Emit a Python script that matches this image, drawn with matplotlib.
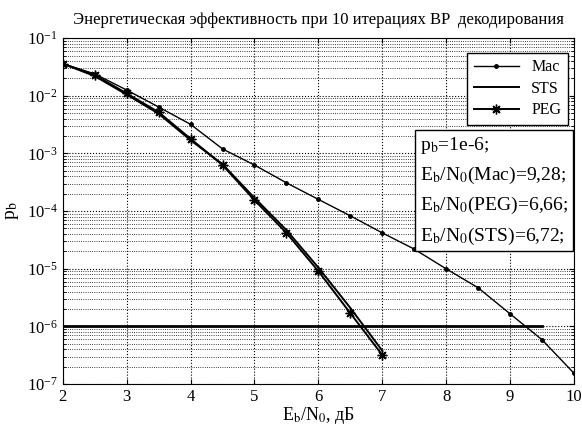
import numpy as np
import matplotlib
matplotlib.use("Agg")
import matplotlib.pyplot as plt
from matplotlib.ticker import LogLocator, NullFormatter

# Eb/N0, dB
snr = [2, 2.5, 3, 3.5, 4, 4.5, 5, 5.5, 6, 6.5, 7, 7.5, 8, 8.5, 9, 9.5, 10]
pb_mac = [3.6e-2, 2.4e-2, 1.26e-2, 6.4e-3, 3.2e-3, 1.2e-3, 6.3e-4, 3.1e-4,
          1.6e-4, 8.3e-5, 4.2e-5, 2.2e-5, 1.0e-5, 4.7e-6, 1.66e-6, 5.9e-7, 1.55e-7]

snr_ldpc = [2, 2.5, 3, 3.5, 4, 4.5, 5, 5.5, 6, 6.5, 7]
pb_sts = [3.6e-2, 2.2e-2, 1.05e-2, 4.9e-3, 1.7e-3, 6.5e-4, 1.7e-4, 4.7e-5,
          1.05e-5, 2.1e-6, 3.8e-7]
pb_peg = [3.6e-2, 2.3e-2, 1.1e-2, 5.2e-3, 1.8e-3, 6.3e-4, 1.55e-4, 4.2e-5,
          9.1e-6, 1.7e-6, 3.2e-7]

target_pb = 1e-6
target_span = [2, 9.5]

info_lines = [r"p$_\mathrm{b}$=1e-6;",
              r"E$_\mathrm{b}$/N$_\mathrm{0}$(Mac)=9,28;",
              r"E$_\mathrm{b}$/N$_\mathrm{0}$(PEG)=6,66;",
              r"E$_\mathrm{b}$/N$_\mathrm{0}$(STS)=6,72;"]

plt.rcParams['font.family'] = ['Liberation Serif', 'DejaVu Serif']
plt.rcParams['mathtext.fontset'] = 'stix'

fig = plt.figure(figsize=(5.82, 4.34), dpi=100)
ax = fig.add_axes([0.108, 0.115, 0.878, 0.797])

ax.semilogy(snr, pb_mac, color='k', lw=1.0, marker='.', markersize=5, label='Mac')
ax.semilogy(snr_ldpc, pb_sts, color='k', lw=1.4, label='STS')
ax.semilogy(snr_ldpc, pb_peg, color='k', lw=1.4, marker=(8, 2, 0), markersize=7,
            label='PEG')
ax.plot(target_span, [target_pb, target_pb], color='k', lw=2.0)

ax.set_xlim(2, 10)
ax.set_ylim(1e-7, 1e-1)
ax.set_xticks(range(2, 11))
ax.yaxis.set_major_locator(LogLocator(base=10, numticks=10))
ax.yaxis.set_minor_locator(LogLocator(base=10, subs=np.arange(2, 10), numticks=20))
ax.yaxis.set_minor_formatter(NullFormatter())

ax.grid(True, which='major', linestyle=':', color='k', lw=0.8)
ax.grid(True, which='minor', axis='y', linestyle=':', color='k', lw=0.6)
ax.tick_params(which='both', direction='in', top=True, right=True, labelsize=12)

ax.set_title("Энергетическая эффективность при 10 итерациях BP  декодирования",
             fontsize=12, pad=10)
ax.set_xlabel(r"E$_\mathrm{b}$/N$_\mathrm{0}$, дБ", fontsize=13, labelpad=0)
ax.set_ylabel(r"p$_\mathrm{b}$", fontsize=14)

leg = ax.legend(loc='upper right', fontsize=11.5, fancybox=False, framealpha=1,
                edgecolor='k', handlelength=2.8, borderaxespad=0,
                labelspacing=0.35, bbox_to_anchor=(0.988, 0.958))
leg.get_frame().set_linewidth(1.0)

ax.text(0.698, 0.72, "\n".join(info_lines), transform=ax.transAxes,
        ha='left', va='top', multialignment='left', fontsize=14, linespacing=1.6,
        bbox=dict(boxstyle='square,pad=0.25', facecolor='white', edgecolor='k'))

fig.savefig("out.png", dpi=100)
